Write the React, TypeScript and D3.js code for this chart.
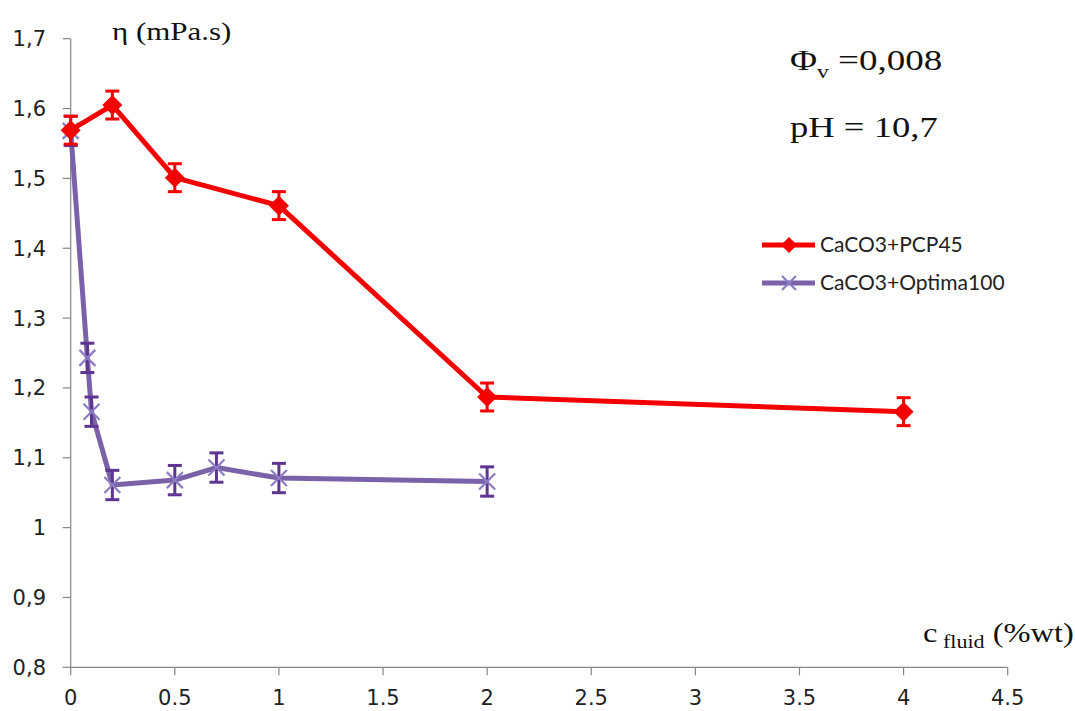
import React from "react";
import * as d3 from "d3";

const xTicks = [0, 0.5, 1, 1.5, 2, 2.5, 3, 3.5, 4, 4.5];
const xTickLabels = ["0", "0.5", "1", "1.5", "2", "2.5", "3", "3.5", "4", "4.5"];
const yTicks = [0.8, 0.9, 1.0, 1.1, 1.2, 1.3, 1.4, 1.5, 1.6, 1.7];
const yTickLabels = ["0,8", "0,9", "1", "1,1", "1,2", "1,3", "1,4", "1,5", "1,6", "1,7"];

const pcpX = [0, 0.2, 0.5, 1, 2, 4];
const pcpY = [1.569, 1.605, 1.501, 1.461, 1.187, 1.166];
const pcpErr = [0.02, 0.02, 0.02, 0.02, 0.02, 0.02];

const optX = [0, 0.08, 0.1, 0.2, 0.5, 0.7, 1, 2];
const optY = [1.568, 1.243, 1.166, 1.061, 1.068, 1.086, 1.071, 1.066];
const optErr = [0.021, 0.021, 0.021, 0.021, 0.021, 0.021, 0.021, 0.021];

const seriesNames = ["CaCO3+PCP45", "CaCO3+Optima100"];

const W = 1075;
const H = 711;

export default function App() {
  const x = d3.scaleLinear().domain([0, 4.5]).range([70.7, 1007.7]);
  const y = d3.scaleLinear().domain([0.8, 1.7]).range([667.3, 38.7]);
  const line = d3
    .line<[number, number]>()
    .x((d) => x(d[0]))
    .y((d) => y(d[1]));

  const pcp: [number, number][] = pcpX.map((v, i) => [v, pcpY[i]]);
  const opt: [number, number][] = optX.map((v, i) => [v, optY[i]]);

  const red = "#f40000";
  const purple = "#7a62a8";
  const purpleDark = "#5e3590";
  const purpleLight = "#8c7cc4";
  const axisColor = "#868686";
  const sans = "Lato, 'Open Sans', sans-serif";
  const tickFont = "'DejaVu Sans', sans-serif";
  const serif = "'Liberation Serif', 'DejaVu Serif', serif";

  const diamond = (cx: number, cy: number, r: number) =>
    `M${cx},${cy - r}L${cx + r},${cy}L${cx},${cy + r}L${cx - r},${cy}Z`;

  const errBar = (cx: number, v: number, e: number, color: string, key: string) => (
    <g key={key} stroke={color} strokeWidth={3}>
      <line x1={cx} x2={cx} y1={y(v + e)} y2={y(v - e)} />
      <line x1={cx - 7} x2={cx + 7} y1={y(v + e)} y2={y(v + e)} />
      <line x1={cx - 7} x2={cx + 7} y1={y(v - e)} y2={y(v - e)} />
    </g>
  );

  const cross = (cx: number, cy: number, r: number, key: string, color: string) => (
    <g key={key} stroke={color} strokeWidth={2.2}>
      <line x1={cx - r} x2={cx + r} y1={cy - r} y2={cy + r} />
      <line x1={cx - r} x2={cx + r} y1={cy + r} y2={cy - r} />
    </g>
  );

  return (
    <svg
      width={W}
      height={H}
      style={{ position: "absolute", left: 0, top: 0, background: "#fff" }}
    >
      <rect width={W} height={H} fill="#fff" />
      {/* axes */}
      <line x1={x(0)} x2={x(0)} y1={y(1.7)} y2={y(0.8)} stroke={axisColor} strokeWidth={1.2} />
      <line x1={x(0)} x2={x(4.5)} y1={y(0.8)} y2={y(0.8)} stroke={axisColor} strokeWidth={1.2} />
      {yTicks.map((t, i) => (
        <g key={"yt" + i}>
          <line x1={x(0) - 8} x2={x(0)} y1={y(t)} y2={y(t)} stroke={axisColor} strokeWidth={1.2} />
          <text
            x={46}
            y={y(t) + 7.5}
            textAnchor="end"
            fontFamily={tickFont}
            fontSize={21}
            fill="#222"
          >
            {yTickLabels[i]}
          </text>
        </g>
      ))}
      {xTicks.map((t, i) => (
        <g key={"xt" + i}>
          <line x1={x(t)} x2={x(t)} y1={y(0.8)} y2={y(0.8) + 8} stroke={axisColor} strokeWidth={1.2} />
          <text
            x={x(t)}
            y={705}
            textAnchor="middle"
            fontFamily={tickFont}
            fontSize={21}
            fill="#222"
          >
            {xTickLabels[i]}
          </text>
        </g>
      ))}

      {/* axis titles */}
      <g transform="translate(112,40) scale(1.19,1)">
        <text x={0} y={0} fontFamily={serif} fontSize={26} fill="#111">
          η (mPa.s)
        </text>
      </g>
      <g transform="translate(923,642) scale(1.16,1)">
        <text x={0} y={0} fontFamily={serif} fontSize={28} fill="#111">
          c
          <tspan fontSize={19} dy={6}> fluid</tspan>
          <tspan dy={-6}> (%wt)</tspan>
        </text>
      </g>
      <g transform="translate(790,70) scale(1.235,1)">
        <text x={0} y={0} fontFamily={serif} fontSize={30} fill="#111">
          Φ<tspan fontSize={19} dy={8}>v</tspan>
          <tspan dy={-8}> =0,008</tspan>
        </text>
      </g>
      <g transform="translate(790,137) scale(1.22,1)">
        <text x={0} y={0} fontFamily={serif} fontSize={30} fill="#111">
          pH = 10,7
        </text>
      </g>

      {/* Optima series */}
      <path d={line(opt) || ""} fill="none" stroke={purple} strokeWidth={5} strokeLinejoin="round" />
      {opt.map((d, i) => errBar(x(d[0]), d[1], optErr[i], purpleDark, "oe" + i))}
      {opt.map((d, i) => cross(x(d[0]), y(d[1]), 8, "oc" + i, purpleLight))}

      {/* PCP series */}
      <path d={line(pcp) || ""} fill="none" stroke={red} strokeWidth={5} strokeLinejoin="round" />
      {pcp.map((d, i) => errBar(x(d[0]), d[1], pcpErr[i], red, "pe" + i))}
      {pcp.map((d, i) => (
        <path key={"pd" + i} d={diamond(x(d[0]), y(d[1]), 10)} fill={red} />
      ))}

      {/* legend */}
      <line x1={762} x2={815} y1={245} y2={245} stroke={red} strokeWidth={5} />
      <path d={diamond(789, 245, 8)} fill={red} />
      <text x={820} y={252} fontFamily={sans} fontSize={21} fill="#222">
        {seriesNames[0]}
      </text>
      <line x1={762} x2={815} y1={283} y2={283} stroke={purple} strokeWidth={5} />
      {cross(789, 283, 7, "lc", purpleLight)}
      <text x={820} y={290} fontFamily={sans} fontSize={21} fill="#222">
        {seriesNames[1]}
      </text>
    </svg>
  );
}
